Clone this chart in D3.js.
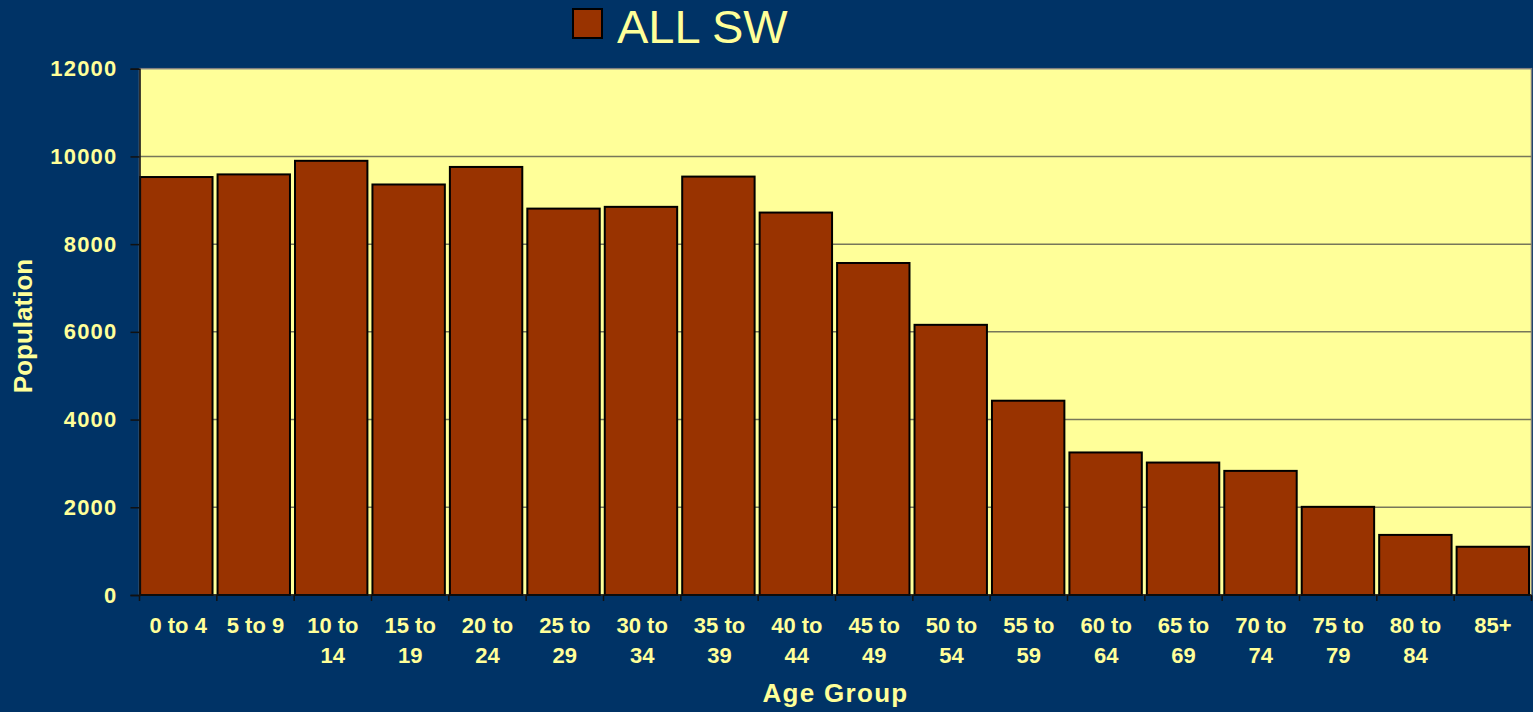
<!DOCTYPE html>
<html>
<head>
<meta charset="utf-8">
<script src="https://cdn.jsdelivr.net/npm/d3@7"></script>
<style>
  body { margin: 0; background: #003366; }
  svg { display: block; }
  text { font-family: "Liberation Sans", Arial, sans-serif; fill: #ffff99; }
</style>
</head>
<body>
<svg id="chart" width="1533" height="712"></svg>
<script>
// Age groups along the x axis.
const ageGroups = ["0 to 4", "5 to 9", "10 to 14", "15 to 19", "20 to 24", "25 to 29",
    "30 to 34", "35 to 39", "40 to 44", "45 to 49", "50 to 54", "55 to 59",
    "60 to 64", "65 to 69", "70 to 74", "75 to 79", "80 to 84", "85+"];

// Population for the one series.
const allSW = [9530, 9590, 9900, 9360, 9760, 8810, 8850, 9540, 8720, 7570,
    6160, 4430, 3250, 3020, 2830, 2010, 1370, 1100];

const yTicks = [0, 2000, 4000, 6000, 8000, 10000, 12000];
const seriesName = "ALL SW";

const svg = d3.select("#chart");
const width = 1533, height = 712;

// Plot area.
const plotLeft = 139.5, plotRight = 1531.5, plotTop = 68.7, plotBottom = 595;

svg.append("rect")
    .attr("width", width)
    .attr("height", height)
    .attr("fill", "#003366");

const x = d3.scaleBand()
    .domain(ageGroups)
    .range([plotLeft, plotRight])
    .paddingInner(0.065)
    .paddingOuter(0.02)
    .align(0.2);

const y = d3.scaleLinear()
    .domain([0, 12000])
    .range([plotBottom, plotTop]);

// Plot background and border.
svg.append("rect")
    .attr("x", plotLeft)
    .attr("y", plotTop)
    .attr("width", plotRight - plotLeft)
    .attr("height", plotBottom - plotTop)
    .attr("fill", "#ffff99")
    .attr("stroke", "#808080")
    .attr("stroke-width", 1.5);

// Gridlines.
svg.append("g")
    .selectAll("line")
    .data(yTicks.filter(t => t > 0 && t < 12000))
    .join("line")
    .attr("x1", plotLeft)
    .attr("x2", plotRight)
    .attr("y1", d => y(d))
    .attr("y2", d => y(d))
    .attr("stroke", "#77775a")
    .attr("stroke-width", 1.5);

// Bars.
svg.append("g")
    .selectAll("rect")
    .data(allSW)
    .join("rect")
    .attr("x", (d, i) => x(ageGroups[i]))
    .attr("y", d => y(d))
    .attr("width", x.bandwidth())
    .attr("height", d => plotBottom - y(d))
    .attr("fill", "#993300")
    .attr("stroke", "#000")
    .attr("stroke-width", 2);

// Y axis.
const yAxis = svg.append("g")
    .attr("transform", "translate(" + plotLeft + ",0)")
    .call(d3.axisLeft(y).tickValues(yTicks).tickFormat(d3.format("d"))
        .tickSize(9).tickPadding(13));
yAxis.select(".domain").attr("stroke", "#111").attr("stroke-width", 1.5);
yAxis.selectAll(".tick line").attr("stroke", "#111").attr("stroke-width", 1.5);
yAxis.selectAll(".tick text")
    .attr("fill", "#ffff99")
    .style("font-size", "22px")
    .style("font-weight", "bold")
    .style("letter-spacing", "1.2px");

// X axis: line plus ticks at category boundaries.
const xAxis = svg.append("g");
xAxis.append("line")
    .attr("x1", plotLeft).attr("x2", plotRight)
    .attr("y1", plotBottom).attr("y2", plotBottom)
    .attr("stroke", "#111").attr("stroke-width", 1.5);

const step = (plotRight - plotLeft) / ageGroups.length;
xAxis.selectAll("line.tick")
    .data(d3.range(ageGroups.length + 1))
    .join("line")
    .attr("class", "tick")
    .attr("x1", i => plotLeft + i * step)
    .attr("x2", i => plotLeft + i * step)
    .attr("y1", plotBottom)
    .attr("y2", plotBottom + 6)
    .attr("stroke", "#111")
    .attr("stroke-width", 1.5);

// Category labels, wrapped onto two lines when they don't fit.
xAxis.selectAll("text.cat")
    .data(ageGroups)
    .join("text")
    .attr("class", "cat")
    .attr("text-anchor", "middle")
    .style("font-size", "22px")
    .style("font-weight", "bold")
    .each(function(d, i) {
        let cx = plotLeft + (i + 0.5) * step;
        let words = d.split(" ");
        let lines = (d.length > 6 && words.length > 2)
            ? [words.slice(0, -1).join(" "), words[words.length - 1]]
            : [d];
        d3.select(this).selectAll("tspan")
            .data(lines)
            .join("tspan")
            .attr("x", cx)
            .attr("y", (l, k) => 633 + k * 29.5)
            .text(l => l);
    });

// Axis titles.
svg.append("text")
    .attr("x", (plotLeft + plotRight) / 2)
    .attr("y", 702)
    .attr("text-anchor", "middle")
    .style("font-size", "26px")
    .style("font-weight", "bold")
    .style("letter-spacing", "1.3px")
    .text("Age Group");

svg.append("text")
    .attr("transform", "translate(31.5,326) rotate(-90)")
    .attr("text-anchor", "middle")
    .style("font-size", "26px")
    .style("font-weight", "bold")
    .text("Population");

// Legend.
const legend = svg.append("g");
legend.append("rect")
    .attr("x", 573)
    .attr("y", 9)
    .attr("width", 29)
    .attr("height", 29)
    .attr("fill", "#993300")
    .attr("stroke", "#000")
    .attr("stroke-width", 2);
legend.append("text")
    .attr("x", 617)
    .attr("y", 42.5)
    .style("font-size", "47px")
    .text(seriesName);
</script>
</body>
</html>
